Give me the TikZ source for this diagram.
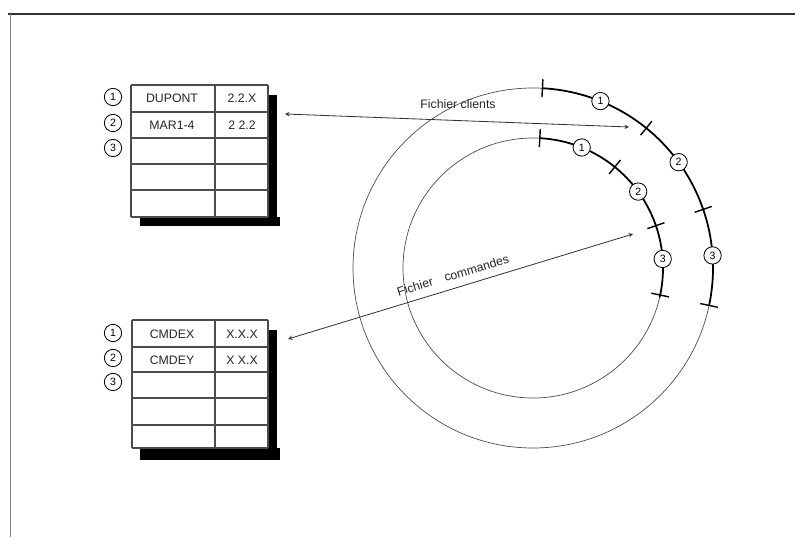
\documentclass[tikz,border=0pt]{standalone}
\usepackage{fontspec}
\setmainfont{Liberation Sans}
\usetikzlibrary{arrows}

\tikzset{
  num/.style={draw,circle,fill=white,inner sep=0pt,minimum size=0.52cm,line width=0.7pt,font=\fontsize{9}{10}\selectfont},
  tab/.style={line width=1.1pt,gray!60!black},
  cell/.style={font=\fontsize{10.5}{12}\selectfont,gray!30!black},
  ring/.style={gray!60!black,line width=0.6pt},
  busy/.style={black,line width=1.5pt},
  tick/.style={black,line width=1.2pt}
}

\begin{document}
\begin{tikzpicture}[x=0.03cm,y=-0.03cm,>=stealth]
  \useasboundingbox (0,0) rectangle (795,537);
  \draw[line width=1.8pt,gray!40!black] (8,14) -- (795,14);
  \draw[gray] (10,14) -- (10,537);

  % fichier clients
  \fill (268,95) rectangle (277,226);
  \fill (140,217) rectangle (280,226);
  \fill[white] (131,85) rectangle (268,217);
  \foreach \y in {85,112,138,164,190,217}
    \draw[tab] (131,\y) -- (268,\y);
  \draw[tab] (131,85) -- (131,217) (215,85) -- (215,217) (268,85) -- (268,217);
  \node[cell] (cli1) at (172,98) {DUPONT};
  \node[cell] (cli1b) at (242,98) {2.2.X};
  \node[cell] (cli2) at (172,125) {MAR1-4};
  \node[cell] (cli2b) at (242,125) {2 2.2};
  \node[num] (ca1) at (113,97) {1};
  \node[num] (ca2) at (113,123) {2};
  \node[num] (ca3) at (113,148) {3};

  % fichier commandes
  \fill (268,330) rectangle (277,460);
  \fill (140,448) rectangle (280,460);
  \fill[white] (132,320) rectangle (268,448);
  \foreach \y in {320,347,372,398,425,448}
    \draw[tab] (132,\y) -- (268,\y);
  \draw[tab] (132,320) -- (132,448) (215,320) -- (215,448) (268,320) -- (268,448);
  \node[cell] (cmd1) at (172,334) {CMDEX};
  \node[cell] (cmd1b) at (242,334) {X.X.X};
  \node[cell] (cmd2) at (172,360) {CMDEY};
  \node[cell] (cmd2b) at (242,360) {X X.X};
  \node[num] (cb1) at (113,333) {1};
  \node[num] (cb2) at (113,358) {2};
  \node[num] (cb3) at (113,382) {3};

  % disque
  \coordinate (c) at (533,268);
  \draw[ring] (c) circle[radius=180];
  \draw[ring] (c) circle[radius=130];
  \draw[busy] (c) ++(-87:180) arc[start angle=-87,end angle=12,radius=180];
  \draw[busy] (c) ++(-87:130) arc[start angle=-87,end angle=13,radius=130];
  \foreach \a in {87,51,19,-12} {
    \draw[tick] (c) ++(-\a:171) -- ++(-\a:18);
    \draw[tick] (c) ++(-\a:121) -- ++(-\a:18);
  }
  \foreach \a/\n in {68/1,36/2,4/3} {
    \path (c) ++(-\a:180) node[num] (out\n) {\n};
    \path (c) ++(-\a:130) node[num] (in\n) {\n};
  }

  % liens
  \coordinate (cliFrom) at (285,114);
  \coordinate (cliTo) at (629,127);
  \coordinate (cmdFrom) at (288,339);
  \coordinate (cmdTo) at (633,234);
  \draw[<->,gray!40!black,line width=0.7pt] (cliFrom) -- (cliTo);
  \draw[<->,gray!40!black,line width=0.7pt] (cmdFrom) -- (cmdTo);
  \node[cell] (cliLab) at (458,104) {Fichier clients};
  \node[cell,rotate=17] (cmdLab) at (453,275) {Fichier\quad commandes};
\end{tikzpicture}
\end{document}
